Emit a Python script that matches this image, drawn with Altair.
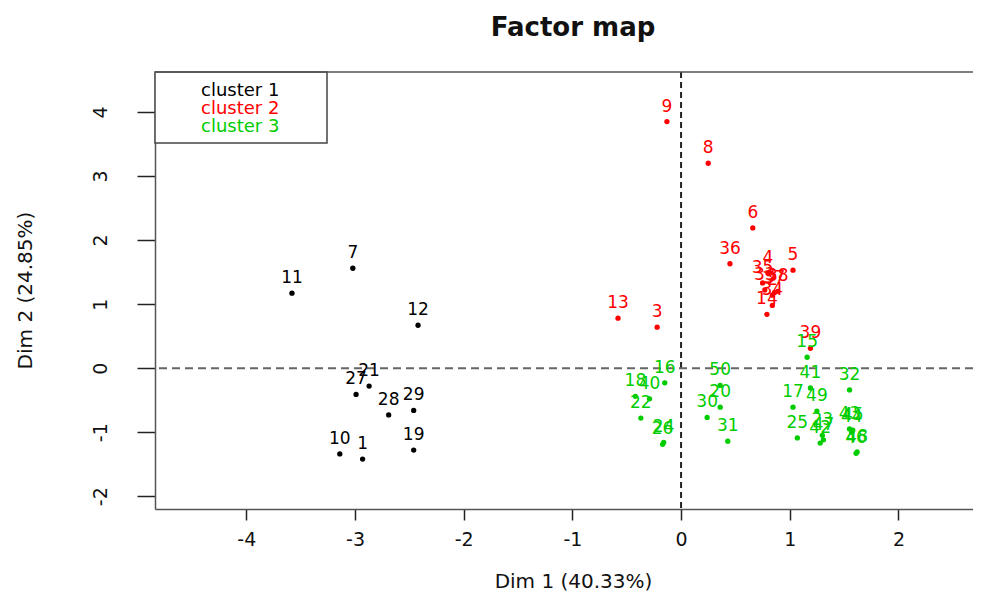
import altair as alt
import pandas as pd

# ---- data ----
labels_c1 = ["1", "7", "10", "11", "12", "19", "21", "27", "28", "29"]
dim1_c1 = [-2.93, -3.02, -3.14, -3.58, -2.42, -2.46, -2.87, -2.99, -2.69, -2.46]
dim2_c1 = [-1.42, 1.56, -1.34, 1.17, 0.67, -1.28, -0.28, -0.41, -0.73, -0.66]

labels_c2 = ["2", "3", "4", "5", "6", "8", "9", "13", "14", "33", "34", "35", "36", "37", "38", "39"]
dim1_c2 = [0.84, -0.22, 0.80, 1.03, 0.66, 0.25, -0.13, -0.58, 0.79, 0.77, 0.84, 0.75, 0.45, 0.86, 0.89, 1.19]
dim2_c2 = [1.14, 0.64, 1.48, 1.53, 2.19, 3.20, 3.85, 0.78, 0.84, 1.22, 0.98, 1.33, 1.63, 1.18, 1.20, 0.31]

labels_c3 = ["15", "16", "17", "18", "20", "22", "23", "24", "25", "26", "30", "31",
             "32", "40", "41", "42", "43", "44", "45", "46", "47", "48", "49", "50"]
dim1_c3 = [1.16, -0.15, 1.03, -0.42, 0.36, -0.37, 1.30, -0.16, 1.07, -0.17, 0.24, 0.43,
           1.55, -0.29, 1.19, 1.28, 1.55, 1.57, 1.58, 1.61, 1.31, 1.62, 1.25, 0.36]
dim2_c3 = [0.17, -0.23, -0.61, -0.44, -0.61, -0.78, -1.05, -1.16, -1.09, -1.19, -0.77, -1.14,
           -0.34, -0.48, -0.31, -1.17, -0.95, -1.00, -0.97, -1.33, -1.12, -1.31, -0.67, -0.27]

cluster_names = ["cluster 1", "cluster 2", "cluster 3"]
cluster_colors = ["#000000", "#FF0000", "#00CD00"]
x_ticks = [-4, -3, -2, -1, 0, 1, 2]
y_ticks = [-2, -1, 0, 1, 2, 3, 4]

rows = []
for lab, xs, ys, cl in [(labels_c1, dim1_c1, dim2_c1, "cluster 1"),
                        (labels_c2, dim1_c2, dim2_c2, "cluster 2"),
                        (labels_c3, dim1_c3, dim2_c3, "cluster 3")]:
    for l, a, b in zip(lab, xs, ys):
        rows.append({"label": l, "dim1": a, "dim2": b, "cluster": cl})
df = pd.DataFrame(rows)

FONT = "DejaVu Sans"
W, H = 818, 437

xscale = alt.Scale(domain=[-4.84, 2.686], nice=False, zero=False)
yscale = alt.Scale(domain=[-2.20, 4.625], nice=False, zero=False)
cscale = alt.Scale(domain=cluster_names, range=cluster_colors)

base = alt.Chart(df)

points = base.mark_circle(size=28, opacity=1).encode(
    x=alt.X("dim1:Q", scale=xscale,
            axis=alt.Axis(values=x_ticks, title="Dim 1 (40.33%)", grid=False,
                          labelExpr="'' + datum.value",
                          tickSize=11, tickColor="#222", tickWidth=1.5,
                          domainColor="#555", domainWidth=1.5,
                          labelFontSize=19, labelFont=FONT, labelColor="#111",
                          labelPadding=10, labelFlush=False,
                          titleFontSize=20, titleFont=FONT, titleFontWeight="normal",
                          titleColor="#111", titleX=418, titleY=82,
                          titleAnchor="start", titleAlign="center", titleBaseline="bottom")),
    y=alt.Y("dim2:Q", scale=yscale,
            axis=alt.Axis(values=y_ticks, title="Dim 2 (24.85%)", grid=False,
                          labelExpr="'' + datum.value",
                          tickSize=18, tickColor="#222", tickWidth=1.5,
                          domainColor="#555", domainWidth=1.5,
                          labelFontSize=19, labelFont=FONT, labelColor="#111",
                          labelAngle=270, labelAlign="center", labelBaseline="bottom",
                          labelPadding=27, labelFlush=False,
                          titleFontSize=20, titleFont=FONT, titleFontWeight="normal",
                          titleColor="#111", titleAngle=270, titleX=-130, titleY=218,
                          titleAlign="center", titleBaseline="middle")),
    color=alt.Color("cluster:N", scale=cscale, legend=None),
)

text = base.mark_text(fontSize=17, font=FONT, dy=-15, baseline="middle", align="center").encode(
    x=alt.X("dim1:Q", scale=xscale),
    y=alt.Y("dim2:Q", scale=yscale),
    text="label:N",
    color=alt.Color("cluster:N", scale=cscale, legend=None),
)

vline = alt.Chart(pd.DataFrame({"v": [0]})).mark_rule(
    strokeDash=[6, 4], strokeWidth=2, color="#222").encode(x=alt.X("v:Q", scale=xscale))
hline = alt.Chart(pd.DataFrame({"h": [0]})).mark_rule(
    strokeDash=[8, 5], strokeWidth=2, color="#666").encode(y=alt.Y("h:Q", scale=yscale))

top_border = alt.Chart(pd.DataFrame({"a": [0]})).mark_rule(color="#555", strokeWidth=1.5).encode(
    x=alt.value(0), x2=alt.value(W), y=alt.value(0))

legend_box = alt.Chart(pd.DataFrame({"a": [0]})).mark_rect(
    fill="white", stroke="#444", strokeWidth=1.5).encode(
    x=alt.value(0), x2=alt.value(172), y=alt.value(0), y2=alt.value(71))

legend_texts = []
for i, (name, col) in enumerate(zip(cluster_names, cluster_colors)):
    legend_texts.append(
        alt.Chart(pd.DataFrame({"t": [name]})).mark_text(
            fontSize=18, font=FONT, align="left", baseline="middle", color=col).encode(
            x=alt.value(46), y=alt.value(19 + 18 * i), text="t:N"))

title = alt.Chart(pd.DataFrame({"t": ["Factor map"]})).mark_text(
    fontSize=26, font=FONT, fontWeight="bold", align="center", baseline="middle",
    color="#111").encode(x=alt.value(418), y=alt.value(-44), text="t:N")

chart = alt.layer(vline, hline, points, text, legend_box, *legend_texts, top_border, title).properties(
    width=W, height=H,
    autosize=alt.AutoSizeParams(type="none"),
    padding={"left": 147, "top": 64, "right": 0, "bottom": 82},
).configure_view(strokeWidth=0)

chart.save("out.html", embed_options={"renderer": "svg", "actions": False})
